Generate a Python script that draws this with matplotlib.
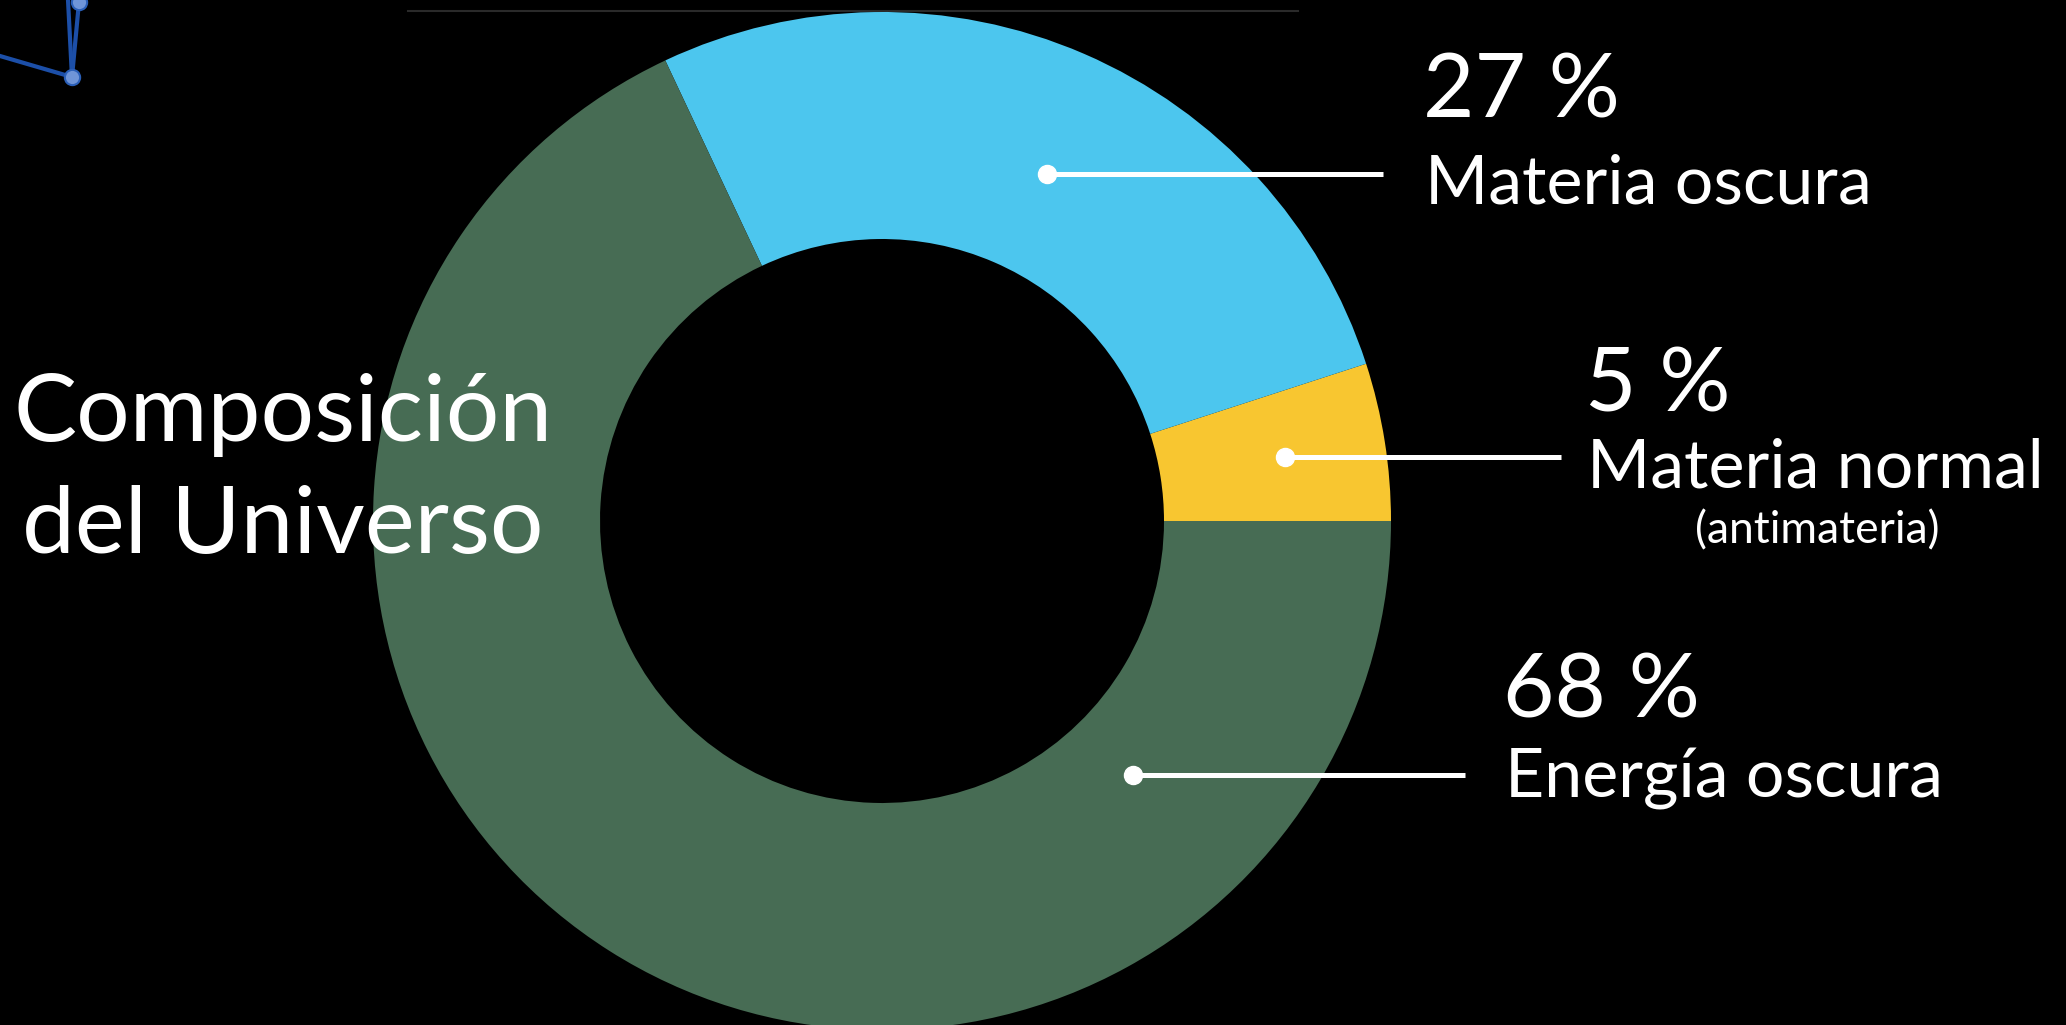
import matplotlib.pyplot as plt
import numpy as np

plt.rcParams['font.family'] = ['Lato', 'DejaVu Sans']

# composicion del universo (%)
partes = ['Materia normal', 'Materia oscura', 'Energía oscura']
valores = [5, 27, 68]
colores = ['#F8C630', '#4CC6EE', '#476C54']
notas = ['(antimateria)', '', '']

W, H = 2066, 1025
fig = plt.figure(figsize=(W / 100, H / 100), dpi=100, facecolor='black')
ax = fig.add_axes([0, 0, 1, 1])
ax.set_facecolor('black')

cx, cy = 882, 521
r_ext, r_int = 509, 282

# eje y invertido -> counterclock=False para que se vea antihorario
ax.pie(valores, colors=colores, startangle=0, counterclock=False,
       center=(cx, cy), radius=r_ext,
       wedgeprops=dict(width=r_ext - r_int, linewidth=0))

ax.set_xlim(0, W)
ax.set_ylim(H, 0)
ax.set_aspect('equal')
ax.axis('off')

# linea fina arriba
ax.plot([408, 1298], [11, 11], color='#2a2a2a', lw=1.5, zorder=0)

# adorno arriba a la izquierda
ax.plot([0, 72], [56, 77], color='#1c4fa8', lw=3)
ax.plot([68, 72], [0, 77], color='#1c4fa8', lw=3)
ax.plot([79, 72], [2, 77], color='#1c4fa8', lw=3)
ax.plot([72, 79], [77, 2], 'o', color='#6f95d8', ms=11, mec='#2a5fb8', mew=1.5)

# etiquetas: (punto, fin de linea, x texto, base porcentaje, base nombre)
pos = [
    ((1285, 457), 1561, 1585, 412, 488),
    ((1047, 174), 1383, 1423, 117, 203),
    ((1133, 775), 1465, 1503, 718, 797),
]
for i, (pt, xfin, xt, y1, y2) in enumerate(pos):
    ax.plot([pt[0], xfin], [pt[1], pt[1]], color='white', lw=3.6,
            solid_capstyle='butt')
    ax.plot(pt[0], pt[1], 'o', color='white', ms=13)
    ax.text(xt, y1, f'{valores[i]} %', color='white', fontsize=64,
            ha='left', va='baseline')
    ax.text(xt + 2, y2, partes[i], color='white', fontsize=49,
            ha='left', va='baseline')
    if notas[i]:
        ax.text(1817, 543, notas[i], color='white', fontsize=32,
                ha='center', va='baseline')

ax.text(283, 441, 'Composición', color='white', fontsize=68,
        ha='center', va='baseline')
ax.text(283, 553, 'del Universo', color='white', fontsize=68,
        ha='center', va='baseline')

fig.savefig('out.png', dpi=100, facecolor='black')
